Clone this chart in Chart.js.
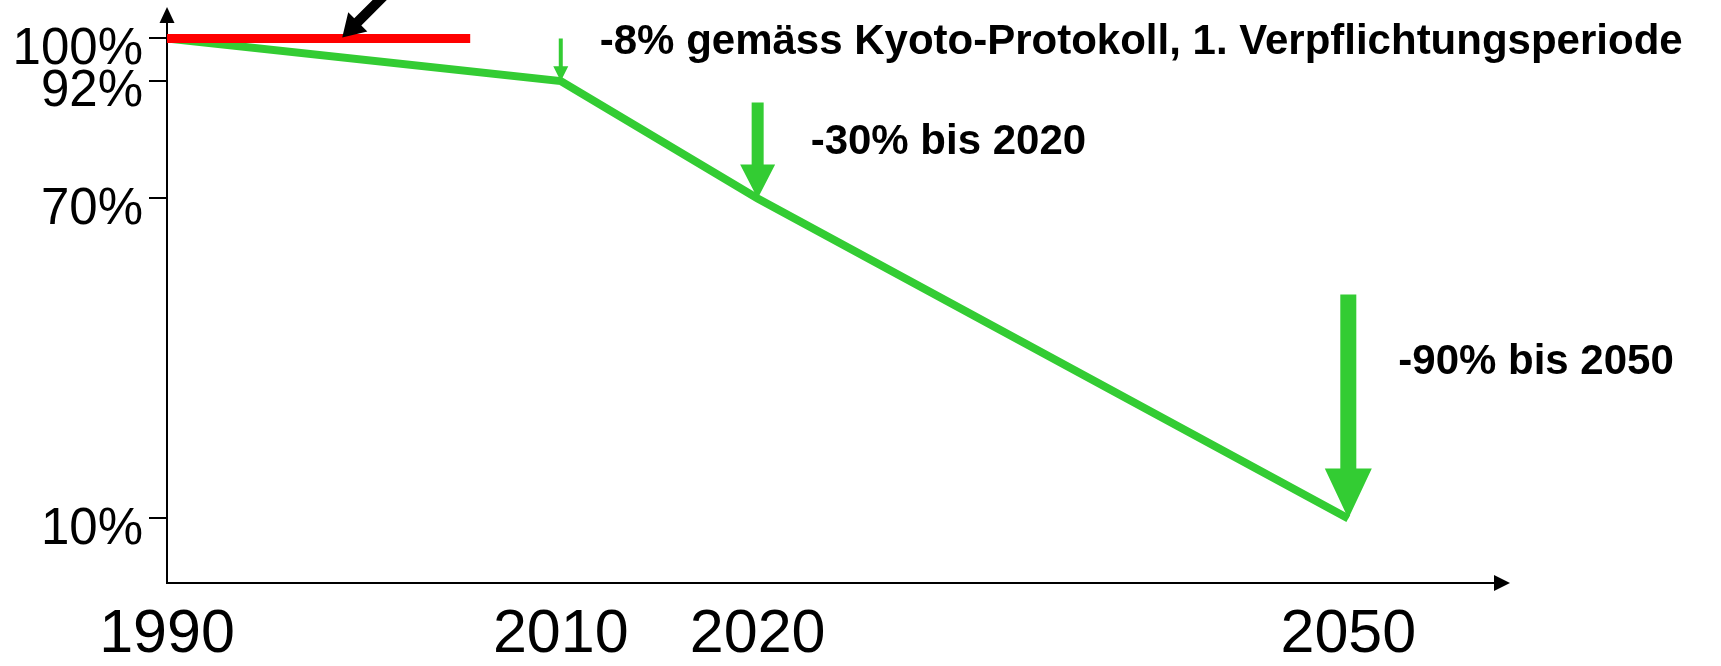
<!DOCTYPE html>
<html>
<head>
<meta charset="utf-8">
<script src="https://cdn.jsdelivr.net/npm/chart.js@4.4.1/dist/chart.umd.min.js"></script>
<style>
  html, body { margin: 0; padding: 0; background: #ffffff; }
  #wrap { width: 1721px; height: 666px; }
</style>
</head>
<body>
<div id="wrap"><canvas id="c" width="1721" height="666"></canvas></div>
<script>
// ---- data ----
const years = [1990, 2010, 2020, 2050];
const targetPct = [100, 92, 70, 10];
const baseYears = [1990, 2005.4];
const basePct = [100, 100];
const xTicks = [1990, 2010, 2020, 2050];
const yTicks = [100, 92, 70, 10];
const arrowYears = [2010, 2020, 2050];
const arrowFromPct = [100, 88, 52];
const arrowToPct = [92, 70, 10];
const noteTexts = ['-8% gemäss Kyoto-Protokoll, 1. Verpflichtungsperiode', '-30% bis 2020', '-90% bis 2050'];
const pointerYear = 1998.9;
const pointerPct = 100;

// ---- styles ----
const GREEN = '#33CC33';
const RED = '#FF0000';
const FONT = "'Liberation Sans', Arial, Helvetica, sans-serif";
const arrowStyles = [
  { shaftW: 4, headW: 15, headL: 15 },
  { shaftW: 12, headW: 35, headL: 34 },
  { shaftW: 16, headW: 47, headL: 50 }
];
const noteOffsets = [
  { dx: 39, dy: 16 },
  { dx: 53, dy: 52 },
  { dx: 50, dy: 80 }
];

function drawArrow(ctx, tipX, tipY, angle, length, shaftW, headW, headL, color) {
  ctx.save();
  ctx.translate(tipX, tipY);
  ctx.rotate(angle);
  ctx.fillStyle = color;
  ctx.beginPath();
  ctx.moveTo(-shaftW / 2, -length);
  ctx.lineTo(shaftW / 2, -length);
  ctx.lineTo(shaftW / 2, -headL);
  ctx.lineTo(headW / 2, -headL);
  ctx.lineTo(0, 0);
  ctx.lineTo(-headW / 2, -headL);
  ctx.lineTo(-shaftW / 2, -headL);
  ctx.closePath();
  ctx.fill();
  ctx.restore();
}

const annotate = {
  id: 'annotate',
  afterDatasetsDraw(chart) {
    const ctx = chart.ctx;
    const xs = chart.scales.x, ys = chart.scales.y;
    arrowYears.forEach((yr, i) => {
      const x = xs.getPixelForValue(yr);
      const y0 = ys.getPixelForValue(arrowFromPct[i]);
      const y1 = ys.getPixelForValue(arrowToPct[i]);
      const s = arrowStyles[i];
      drawArrow(ctx, x, y1, 0, y1 - y0, s.shaftW, s.headW, s.headL, GREEN);
    });
    const px = xs.getPixelForValue(pointerYear);
    const py = ys.getPixelForValue(pointerPct);
    drawArrow(ctx, px, py - 1, Math.PI / 4, 90, 10, 27, 22, '#000000');
  },
  afterDraw(chart) {
    const ctx = chart.ctx;
    const a = chart.chartArea;
    const xs = chart.scales.x, ys = chart.scales.y;
    ctx.save();
    ctx.fillStyle = '#000000';
    ctx.beginPath();
    ctx.moveTo(a.left - 7.5, a.top);
    ctx.lineTo(a.left + 7.5, a.top);
    ctx.lineTo(a.left, a.top - 16);
    ctx.closePath();
    ctx.fill();
    ctx.beginPath();
    ctx.moveTo(a.right, a.bottom - 8);
    ctx.lineTo(a.right, a.bottom + 8);
    ctx.lineTo(a.right + 16, a.bottom);
    ctx.closePath();
    ctx.fill();
    ctx.font = 'bold 42px ' + FONT;
    ctx.textAlign = 'left';
    ctx.textBaseline = 'alphabetic';
    noteTexts.forEach((t, i) => {
      const o = noteOffsets[i];
      const x = xs.getPixelForValue(arrowYears[i]) + o.dx;
      const y = ys.getPixelForValue(arrowFromPct[i]) + o.dy;
      ctx.fillText(t, x, y);
    });
    ctx.restore();
  }
};

const ctx = document.getElementById('c').getContext('2d');
new Chart(ctx, {
  type: 'line',
  data: {
    datasets: [
      {
        label: 'Basis 1990',
        data: baseYears.map((x, i) => ({ x, y: basePct[i] })),
        borderColor: RED,
        borderWidth: 9,
        borderCapStyle: 'butt',
        pointRadius: 0,
        fill: false
      },
      {
        label: 'Reduktionspfad',
        data: years.map((x, i) => ({ x, y: targetPct[i] })),
        borderColor: GREEN,
        borderWidth: 8,
        borderJoinStyle: 'miter',
        pointRadius: 0,
        tension: 0,
        fill: false
      }
    ]
  },
  options: {
    responsive: false,
    animation: false,
    devicePixelRatio: 1,
    layout: { padding: { top: 23, right: 227, left: 0, bottom: 0 } },
    plugins: { legend: { display: false }, tooltip: { enabled: false } },
    scales: {
      x: {
        type: 'linear',
        min: 1990,
        max: 2057.4,
        afterFit(scale) { scale.height = 83; scale.paddingLeft = 0; scale.paddingRight = 0; },
        afterBuildTicks(scale) { scale.ticks = xTicks.map(v => ({ value: v })); },
        border: { display: true, color: '#000000', width: 2 },
        grid: { display: true, drawOnChartArea: false, drawTicks: false, color: '#000000' },
        ticks: {
          autoSkip: false,
          maxRotation: 0,
          minRotation: 0,
          padding: 16,
          color: '#000000',
          font: { family: FONT, size: 61 },
          callback: v => String(v)
        }
      },
      y: {
        type: 'linear',
        min: -2.1,
        max: 102.9,
        afterFit(scale) { scale.width = 167; scale.paddingTop = 0; scale.paddingBottom = 0; },
        afterBuildTicks(scale) { scale.ticks = yTicks.map(v => ({ value: v })); },
        border: { display: true, color: '#000000', width: 2 },
        grid: { display: true, drawOnChartArea: false, drawTicks: true, tickLength: 18, color: '#000000', lineWidth: 2 },
        ticks: {
          autoSkip: false,
          padding: 6,
          labelOffset: 11,
          color: '#000000',
          font: { family: FONT, size: 51 },
          callback: v => v + '%'
        }
      }
    }
  },
  plugins: [annotate]
});
</script>
</body>
</html>
